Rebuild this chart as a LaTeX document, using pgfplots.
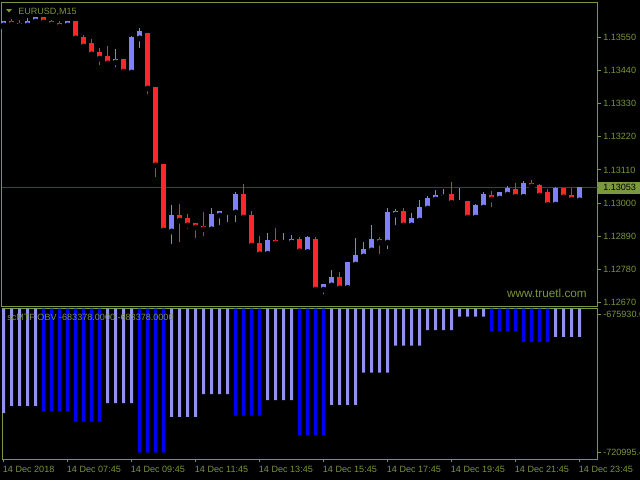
\documentclass[border=0pt]{standalone}
\usepackage{pgfplots}
\pgfplotsset{compat=1.18}
\usepackage{pgfplotstable}
\usepackage{fontspec}
\setmainfont{Liberation Sans}

\definecolor{mtframe}{RGB}{122,152,62}
\definecolor{mttext}{RGB}{122,150,60}
\definecolor{bullc}{RGB}{128,128,250}
\definecolor{bearc}{RGB}{250,40,40}
\definecolor{dojic}{RGB}{50,205,50}
\definecolor{obvlight}{RGB}{145,145,240}
\definecolor{obvdark}{RGB}{0,0,245}
\definecolor{askline}{RGB}{45,75,40}
\newcommand\mtfont{\fontsize{6.8}{8}\selectfont}

% EURUSD M15 candles: bar index, open, high, low, close
\pgfplotstableread{
k o h l c
0 1.13591 1.13604 1.13584 1.13601
3 1.13591 1.13614 1.13578 1.13604
4 1.13604 1.13614 1.13591 1.13614
8 1.13591 1.13604 1.13571 1.13601
14 1.13468 1.13511 1.13442 1.13475
16 1.13435 1.13554 1.13428 1.13548
17 1.13548 1.13581 1.13505 1.13568
21 1.12908 1.12994 1.12855 1.12958
26 1.12915 1.12984 1.12901 1.12964
27 1.12961 1.12974 1.12918 1.12971
29 1.12971 1.13037 1.12928 1.13030
33 1.12832 1.12901 1.12832 1.12875
35 1.12870 1.12901 1.12852 1.12873
36 1.12871 1.12895 1.12858 1.12881
38 1.12838 1.12891 1.12838 1.12885
40 1.12715 1.12732 1.12689 1.12732
41 1.12729 1.12778 1.12712 1.12755
43 1.12719 1.12802 1.12719 1.12802
44 1.12798 1.12885 1.12795 1.12828
45 1.12825 1.12871 1.12822 1.12848
46 1.12845 1.12928 1.12835 1.12881
48 1.12871 1.12984 1.12838 1.12968
49 1.12964 1.12981 1.12918 1.12974
51 1.12928 1.12968 1.12921 1.12948
52 1.12944 1.13011 1.12941 1.12984
53 1.12984 1.13024 1.12977 1.13017
54 1.13014 1.13044 1.13001 1.13024
55 1.13021 1.13047 1.13017 1.13027
57 1.13002 1.13050 1.12997 1.13005
59 1.12954 1.12997 1.12938 1.12991
60 1.12987 1.13037 1.12984 1.13030
62 1.13017 1.13034 1.13007 1.13034
63 1.13030 1.13057 1.13014 1.13047
65 1.13021 1.13074 1.13021 1.13064
69 1.12997 1.13054 1.12984 1.13047
72 1.13011 1.13053 1.12994 1.13053
}\bull

\pgfplotstableread{
k o h l c
1 1.13604 1.13611 1.13587 1.13594
2 1.13597 1.13607 1.13587 1.13589
5 1.13614 1.13614 1.13594 1.13601
6 1.13601 1.13607 1.13591 1.13594
7 1.13597 1.13604 1.13581 1.13587
9 1.13601 1.13604 1.13534 1.13548
10 1.13548 1.13558 1.13508 1.13521
11 1.13528 1.13544 1.13491 1.13495
12 1.13498 1.13515 1.13448 1.13481
13 1.13485 1.13521 1.13452 1.13465
15 1.13478 1.13478 1.13425 1.13438
18 1.13564 1.13564 1.13352 1.13382
19 1.13382 1.13382 1.13077 1.13127
20 1.13127 1.13130 1.12898 1.12911
22 1.12958 1.12997 1.12861 1.12944
23 1.12948 1.12964 1.12905 1.12928
24 1.12931 1.12934 1.12875 1.12921
25 1.12924 1.12971 1.12881 1.12915
30 1.13030 1.13064 1.12951 1.12954
31 1.12958 1.12974 1.12852 1.12861
32 1.12865 1.12891 1.12815 1.12832
34 1.12875 1.12918 1.12848 1.12868
37 1.12878 1.12888 1.12828 1.12842
39 1.12878 1.12888 1.12712 1.12715
42 1.12755 1.12772 1.12712 1.12719
47 1.12881 1.12888 1.12822 1.12871
50 1.12974 1.12984 1.12924 1.12928
56 1.13030 1.13070 1.13001 1.13001
58 1.13004 1.13004 1.12951 1.12954
61 1.13027 1.13040 1.12977 1.13014
64 1.13044 1.13067 1.13021 1.13021
66 1.13064 1.13077 1.13050 1.13057
67 1.13057 1.13064 1.13014 1.13027
68 1.13034 1.13047 1.12994 1.12994
70 1.13047 1.13050 1.13017 1.13021
71 1.13024 1.13050 1.13011 1.13011
}\bear

\pgfplotstableread{
k o h l c
28 1.12970 1.12977 1.12928 1.12970
}\doji

% scMTF OBV (H1 on M15)
\pgfplotstableread{
k v
0 -708096
1 -705821
2 -705821
3 -705821
4 -705821
13 -704847
14 -704847
15 -704847
16 -704847
21 -709395
22 -709395
23 -709395
24 -709395
25 -701923
26 -701923
27 -701923
28 -701923
33 -703872
34 -703872
35 -703872
36 -703872
41 -705496
42 -705496
43 -705496
44 -705496
45 -695002
46 -695002
47 -695002
48 -695002
49 -686230
50 -686230
51 -686230
52 -686230
53 -681129
54 -681129
55 -681129
56 -681129
57 -676808
58 -676808
59 -676808
60 -676808
69 -683378
70 -683378
71 -683378
72 -683378
}\obvup

\pgfplotstableread{
k v
5 -707446
6 -707446
7 -707446
8 -707446
9 -710922
10 -710922
11 -710922
12 -710922
17 -720995.4
18 -720995.4
19 -720995.4
20 -720995.4
29 -708973
30 -708973
31 -708973
32 -708973
37 -715243
38 -715243
39 -715243
40 -715243
61 -681454
62 -681454
63 -681454
64 -681454
65 -685028
66 -685028
67 -685028
68 -685028
}\obvdn

\pgfplotsset{
  mtaxis/.style={
    scale only axis, anchor=south west,
    width=446.625pt,
    xmin=-0.209, xmax=74.23,
    scaled y ticks=false, scaled x ticks=false,
    axis line style={mtframe, line width=0.75pt},
    tick style={mtframe, line width=0.75pt},
    tick align=outside, major tick length=2.25pt,
    ytick pos=upper, yticklabel pos=upper,
    ticklabel style={font=\mtfont, text=mttext},
    yticklabel style={anchor=west, inner sep=0pt, xshift=1.9pt},
  },
  wick/.style={only marks, mark=none, forget plot,
    error bars/.cd, y dir=plus, y explicit, error mark=none,
    error bar style={line width=0.75pt, #1}},
  body/.style={only marks, mark=none, forget plot,
    error bars/.cd, y dir=plus, y explicit, error mark=none,
    error bar style={line width=3.75pt, #1}},
}

\begin{document}
\begin{tikzpicture}
\path[use as bounding box, fill=black] (0,0) rectangle (480pt,360pt);

\begin{axis}[mtaxis,
  at={(1.5pt,130.5pt)}, height=227.78pt,
  ymin=1.12659, ymax=1.13666,
  xtick=\empty,
  ytick={1.1267,1.1278,1.1289,1.13,1.1311,1.1322,1.1333,1.1344,1.1355},
  yticklabels={1.12670,1.12780,1.12890,1.13000,1.13110,1.13220,1.13330,1.13440,1.13550},
]
\draw[askline, line width=0.75pt] (axis cs:-1,1.13053) -- (axis cs:80,1.13053);
\addplot[wick=bullc] table[x=k, y=l, y error expr=\thisrow{h}-\thisrow{l}] {\bull};
\addplot[wick=bearc] table[x=k, y=l, y error expr=\thisrow{h}-\thisrow{l}] {\bear};
\addplot[wick=dojic] table[x=k, y=l, y error expr=\thisrow{h}-\thisrow{l}] {\doji};
% bodies drawn one pixel taller, as the terminal draws them
\addplot[body=bullc] table[x=k, y expr=\thisrow{o}-0.000017,
  y error expr=\thisrow{c}-\thisrow{o}+0.000033] {\bull};
\addplot[body=bearc] table[x=k, y expr=\thisrow{c}-0.000017,
  y error expr=\thisrow{o}-\thisrow{c}+0.000033] {\bear};
\addplot[only marks, mark=none, forget plot,
  error bars/.cd, x dir=both, x fixed=0.3125, error mark=none,
  error bar style={line width=0.75pt, dojic}] table[x=k, y=o] {\doji};
\end{axis}

\begin{axis}[mtaxis,
  at={(1.5pt,15.525pt)}, height=112.95pt,
  ymin=-723139.8, ymax=-674208.6,
  xtick pos=lower,
  xtick={0,8,...,72},
  xticklabels={14 Dec 2018,14 Dec 07:45,14 Dec 09:45,14 Dec 11:45,14 Dec 13:45,
    14 Dec 15:45,14 Dec 17:45,14 Dec 19:45,14 Dec 21:45,14 Dec 23:45},
  xticklabel style={anchor=north west, inner sep=0pt, xshift=-0.75pt, yshift=-2.6pt},
  ytick={-720995.4,-675930.6},
  yticklabels={-720995.4,-675930.6},
  ybar, bar width=2.25pt,
]
\addplot[fill=obvlight, draw=none, bar shift=0pt] table[x=k, y=v] {\obvup};
\addplot[fill=obvdark, draw=none, bar shift=0pt] table[x=k, y=v] {\obvdn};
\end{axis}

\begin{scope}[shift={(0pt,360pt)}, x=0.75pt, y=-0.75pt]
\fill[mtframe] (6,9) -- (12,9) -- (9,12.5) -- cycle;
\node[anchor=base west, inner sep=0pt, text=mttext, font=\mtfont] at (18,14) {EURUSD,M15};
\node[anchor=base west, inner sep=0pt, text=mttext, font=\mtfont] at (7,320.7)
  {scMTF OBV -683378.0000 -683378.0000};
\node[anchor=base east, inner sep=0pt, text=mttext, font=\fontsize{8.8}{10}\selectfont]
  at (587,297) {www.truetl.com};
\fill[mtframe] (598,181.5) rectangle (641,193.5);
\node[anchor=west, inner sep=0pt, text=black, font=\mtfont] at (603,187.5) {1.13053};
\end{scope}
\end{tikzpicture}
\end{document}
